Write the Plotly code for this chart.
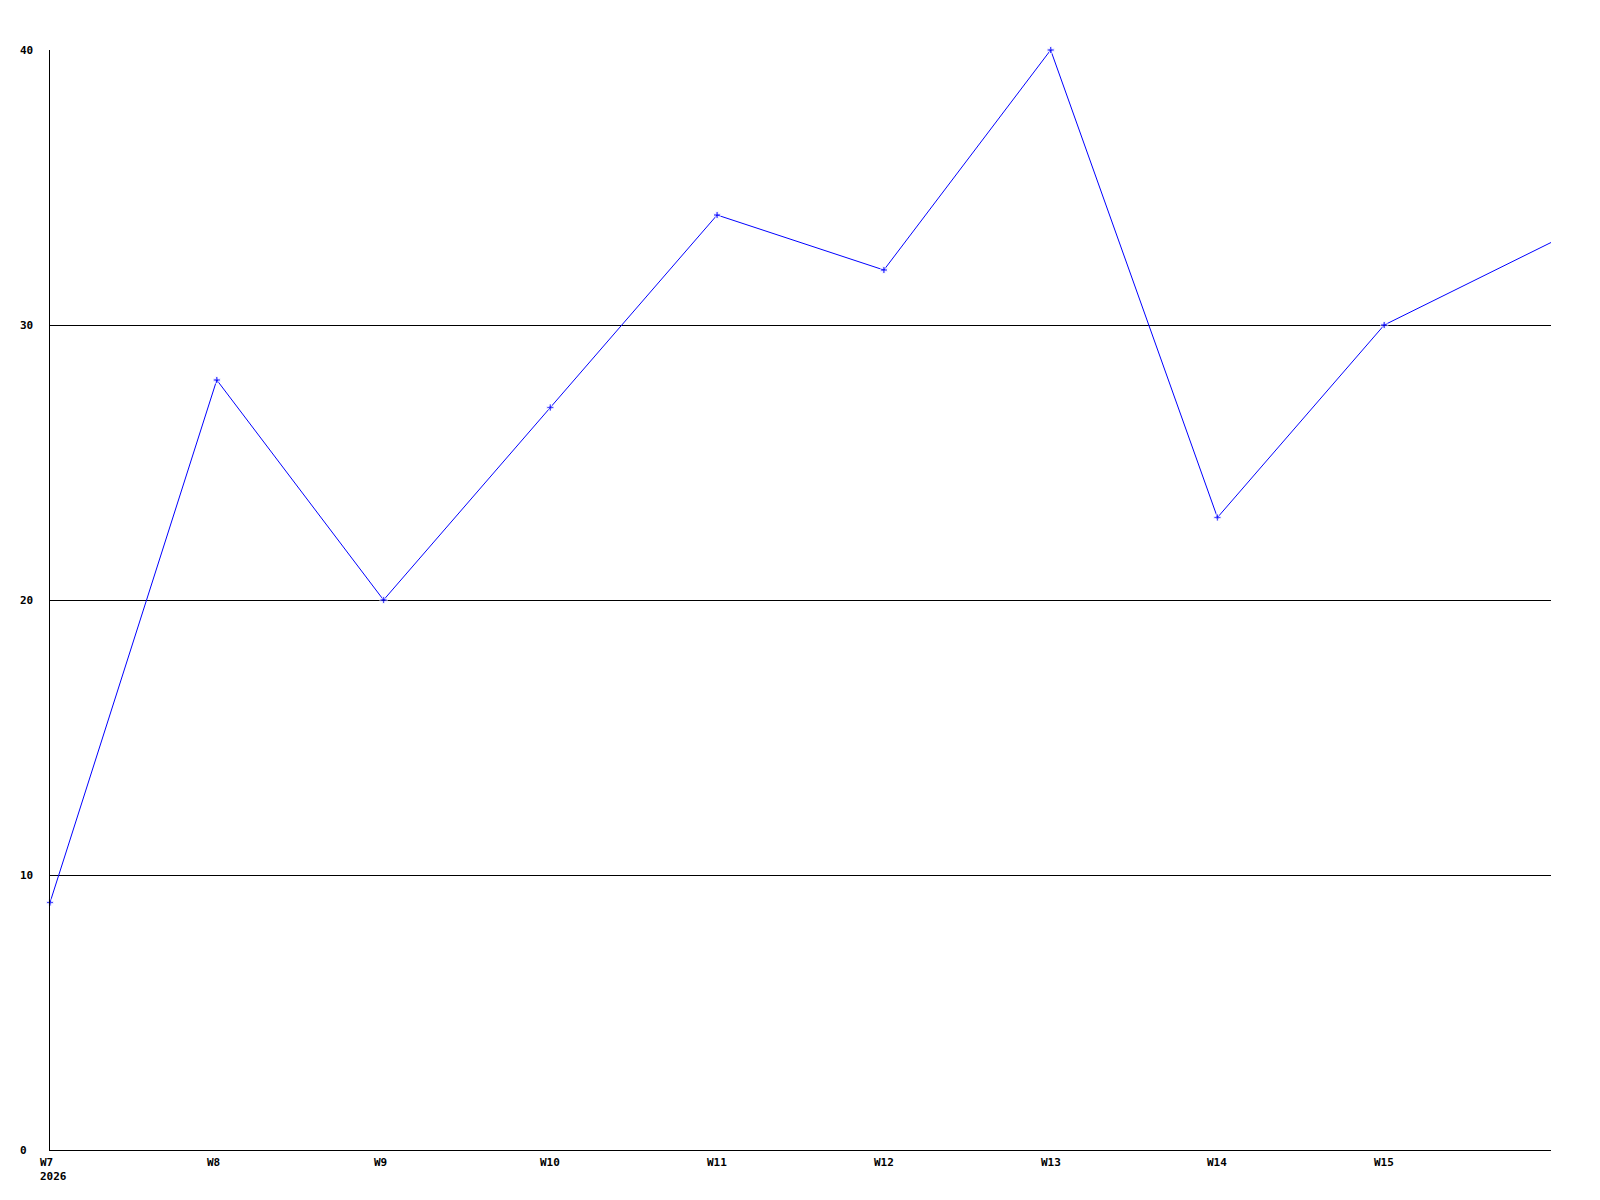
import plotly.graph_objects as go

weeks = ["W7", "W8", "W9", "W10", "W11", "W12", "W13", "W14", "W15", "W16"]
values = [9, 28, 20, 27, 34, 32, 40, 23, 30, 33]
x_tick_labels = ["W7<br>2026", "W8", "W9", "W10", "W11", "W12", "W13", "W14", "W15"]
y_tick_values = [0, 10, 20, 30, 40]

FONT = dict(family="DejaVu Sans Mono", size=11, color="black")

x_idx = list(range(len(weeks)))
marker_sizes = [6] * (len(weeks) - 1) + [0]

fig = go.Figure()
fig.add_trace(go.Scatter(
    x=x_idx, y=values, mode="lines+markers",
    line=dict(color="#0000ff", width=1),
    marker=dict(symbol="cross", size=marker_sizes, color="#0000ff"),
    cliponaxis=False, hoverinfo="y", text=weeks,
))

annotations = []
for i, lab in enumerate(x_tick_labels):
    annotations.append(dict(
        x=i, y=0, xref="x", yref="paper", xanchor="left", yanchor="top",
        xshift=-11, yshift=-5, text="<b>" + lab + "</b>", showarrow=False,
        align="left", font=FONT, borderpad=0,
    ))
for v in y_tick_values:
    annotations.append(dict(
        x=0, y=v, xref="paper", yref="y", xanchor="left", yanchor="middle",
        xshift=-31, text="<b>" + str(v) + "</b>", showarrow=False,
        align="left", font=FONT, borderpad=0,
    ))

# page body has an 8px margin, so the figure is sized to fill the rest
fig.update_layout(
    width=1592, height=1192, autosize=False,
    margin=dict(l=42, r=49, t=42, b=50, pad=0),
    plot_bgcolor="white", paper_bgcolor="white",
    showlegend=False,
    xaxis=dict(range=[0, 9], showgrid=False, zeroline=False, showline=True,
               linecolor="black", linewidth=1, showticklabels=False, ticks=""),
    yaxis=dict(range=[0, 40], tickvals=y_tick_values, showgrid=True,
               gridcolor="black", gridwidth=1, zeroline=False, showline=True,
               linecolor="black", linewidth=1, showticklabels=False, ticks=""),
    annotations=annotations,
)

fig.write_html("out.html")
